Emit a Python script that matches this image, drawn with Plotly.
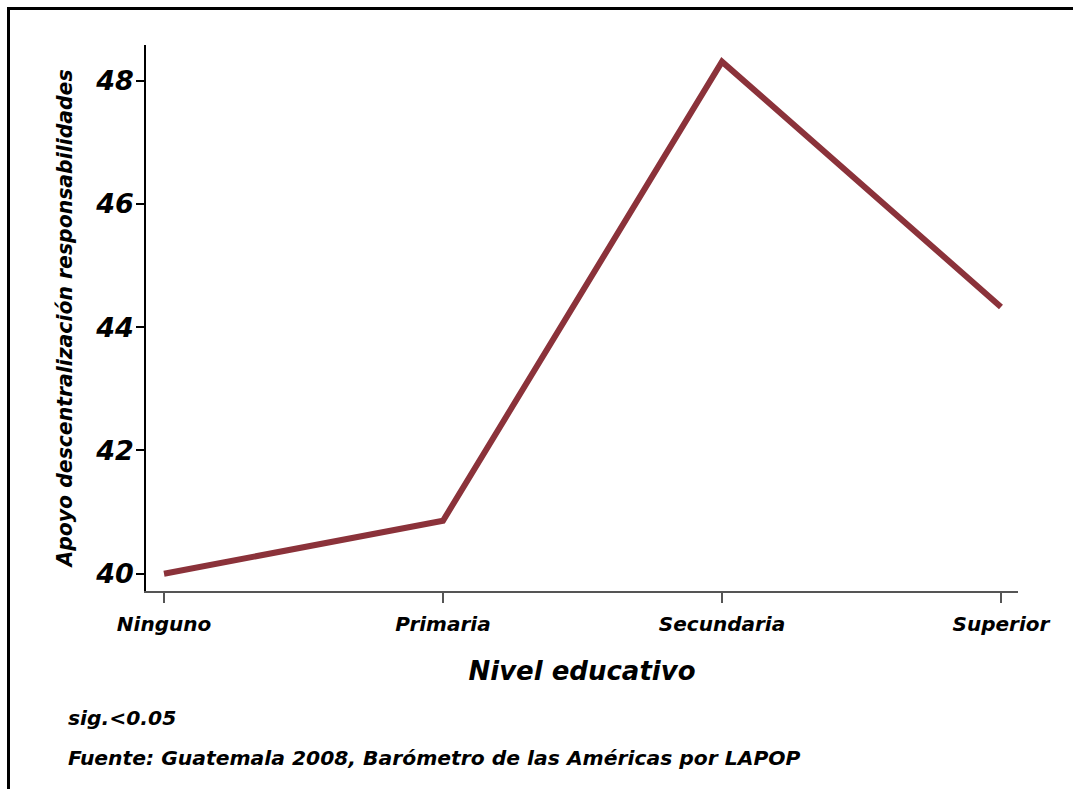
import plotly.graph_objects as go

categories = ["Ninguno", "Primaria", "Secundaria", "Superior"]
values = [40.0, 40.86, 48.31, 44.33]
y_ticks = [40, 42, 44, 46, 48]

FONT = "DejaVu Sans"
x_idx = list(range(len(categories)))

fig = go.Figure()
fig.add_trace(go.Scatter(
    x=x_idx, y=values, mode="lines",
    line=dict(color="#8B323A", width=6),
    hoverinfo="skip", showlegend=False,
))

W, H = 1073, 789
L, R, T, B = 146, 55, 45, 198
pw, ph = W - L - R, H - T - B

def px_x(p):
    return (p - L) / pw

def px_y(p):
    return (H - B - p) / ph

fig.update_layout(
    width=W, height=H,
    margin=dict(l=L, r=R, t=T, b=B, autoexpand=False),
    paper_bgcolor="white", plot_bgcolor="white",
    xaxis=dict(
        range=[-0.0645, 3.061],
        tickmode="array", tickvals=x_idx, ticktext=categories,
        ticks="outside", ticklen=10, tickwidth=2, tickcolor="#555555",
        ticklabelstandoff=4,
        showline=True, linecolor="#555555", linewidth=2,
        showgrid=False, zeroline=False,
        tickfont=dict(family=FONT, size=20, color="black", weight="bold", style="italic"),
        title=dict(text="Nivel educativo", standoff=27,
                   font=dict(family=FONT, size=26, color="black", style="italic", weight="bold")),
    ),
    yaxis=dict(
        range=[39.72, 48.58],
        tickmode="array", tickvals=y_ticks, ticktext=[str(v) for v in y_ticks],
        ticks="outside", ticklen=8, tickwidth=1.5, tickcolor="black",
        ticklabelstandoff=-3,
        showline=True, linecolor="black", linewidth=1.5,
        showgrid=False, zeroline=False,
        tickfont=dict(family=FONT, size=27, color="black", weight="bold", style="italic"),
        title=dict(text="Apoyo descentralización responsabilidades", standoff=17,
                   font=dict(family=FONT, size=20.4, color="black", style="italic", weight="bold")),
    ),
    shapes=[
        dict(type="line", xref="paper", yref="paper",
             x0=px_x(7), x1=px_x(1080), y0=px_y(8.5), y1=px_y(8.5),
             line=dict(color="black", width=3)),
        dict(type="line", xref="paper", yref="paper",
             x0=px_x(8.5), x1=px_x(8.5), y0=px_y(7), y1=px_y(800),
             line=dict(color="black", width=3)),
    ],
    annotations=[
        dict(text="sig.<0.05", xref="paper", yref="paper",
             x=px_x(66), y=px_y(718), xanchor="left", yanchor="middle", showarrow=False,
             font=dict(family=FONT, size=20.3, color="black", weight="bold", style="italic")),
        dict(text="Fuente: Guatemala 2008, Barómetro de las Américas por LAPOP", xref="paper", yref="paper",
             x=px_x(66), y=px_y(758), xanchor="left", yanchor="middle", showarrow=False,
             font=dict(family=FONT, size=20.3, color="black", weight="bold", style="italic")),
    ],
)

fig.write_html("out.html", config={"displayModeBar": False},
               post_script="document.body.style.margin='0px';")
